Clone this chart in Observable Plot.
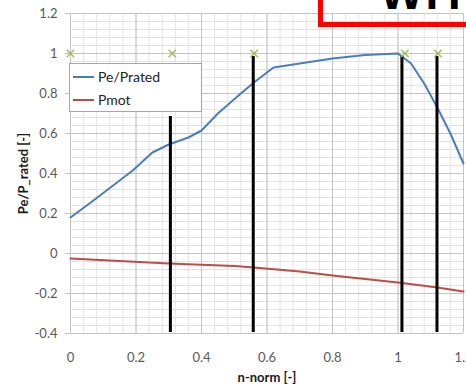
<!DOCTYPE html>
<html><head><meta charset="utf-8">
<script src="https://cdn.jsdelivr.net/npm/d3@7"></script>
<script src="https://cdn.jsdelivr.net/npm/@observablehq/plot@0.6"></script>
<style>
body{margin:0;background:#fff;overflow:hidden;width:466px;height:387px;position:relative;font-family:Lato,"Open Sans",sans-serif}
#chart{position:absolute;left:0;top:0}
g[aria-label="y-axis label"] text, g[aria-label="x-axis label"] text{font-weight:bold;fill:#1a1a1a;font-size:13px}
#legend{position:absolute;left:69px;top:63px;width:133px;height:49px;border:1px solid #a6a6a6;background:#fff;box-sizing:border-box;font-size:14px;color:#222}
.li{position:absolute;display:flex;align-items:center}
.sw{display:inline-block;height:2px;margin-right:4px}
#redbox{position:absolute;left:318px;top:-30px;width:200px;height:57px;border:5px solid #ff0000;box-sizing:border-box}
#wt{position:absolute;left:380px;top:-34px;font:bold 46px "Liberation Sans",Arial,sans-serif;color:#000;letter-spacing:2px}
</style></head>
<body>
<div id="chart"></div>
<div id="redbox"></div>
<div id="wt">WITH</div>
<div id="legend"></div>
<script>
// Data
const blueX = [0, 0.07, 0.19, 0.25, 0.30, 0.36, 0.40, 0.45, 0.52, 0.56, 0.62, 0.70, 0.80, 0.90, 1.00, 1.04, 1.08, 1.12, 1.16, 1.20];
const blueY = [0.18, 0.265, 0.415, 0.505, 0.545, 0.58, 0.615, 0.70, 0.80, 0.855, 0.93, 0.95, 0.975, 0.993, 1.0, 0.95, 0.85, 0.73, 0.60, 0.45];
const redX = [0, 0.30, 0.50, 0.56, 0.70, 0.80, 1.00, 1.12, 1.20];
const redY = [-0.025, -0.05, -0.063, -0.07, -0.09, -0.11, -0.145, -0.17, -0.19];
const vLineX = [0.305, 0.558, 1.012, 1.119];
const vLineTop = [0.685, 0.985, 0.985, 0.985];
const vLineBottom = [-0.395, -0.395, -0.395, -0.395];
const markX = [0, 0.311, 0.561, 1.021, 1.122];
const markY = [1, 1, 1, 1, 1];
const xTicks = [0, 0.2, 0.4, 0.6, 0.8, 1, 1.2];
const yTicks = [-0.4, -0.2, 0, 0.2, 0.4, 0.6, 0.8, 1, 1.2];
const seriesNames = ["Pe/Prated", "Pmot"];
const seriesColors = ["#4a7ebb", "#be4b48"];

const blue = blueX.map((x, i) => ({x, y: blueY[i]}));
const red = redX.map((x, i) => ({x, y: redY[i]}));
const vlines = vLineX.map((x, i) => ({x, top: vLineTop[i], bottom: vLineBottom[i]}));
const marks = markX.map((x, i) => ({x, y: markY[i]}));
const xMinor = d3.range(0, 31).map(i => +(i * 0.04).toFixed(2));
const yMinor = d3.range(0, 41).map(i => +(-0.4 + i * 0.04).toFixed(2));
const fmt = d => d === 0 ? "0" : String(+d.toFixed(1));

const chart = Plot.plot({
  width: 466, height: 387,
  marginLeft: 70, marginRight: 3, marginTop: 13, marginBottom: 54,
  style: {fontSize: "13px", fontFamily: "Lato, 'Open Sans', sans-serif", background: "white", color: "#595959", overflow: "hidden"},
  x: {domain: [0, 1.2]},
  y: {domain: [-0.4, 1.2]},
  marks: [
    Plot.ruleX(xMinor, {stroke: "#e3e3e3", strokeWidth: 1}),
    Plot.ruleY(yMinor, {stroke: "#e3e3e3", strokeWidth: 1}),
    Plot.ruleX(xTicks, {stroke: "#c4c4c4", strokeWidth: 1}),
    Plot.ruleY(yTicks, {stroke: "#c4c4c4", strokeWidth: 1}),
    Plot.axisX({ticks: xTicks, tickFormat: fmt, tickSize: 0, tickPadding: 19, fill: "#595959", label: "n-norm [-]", labelArrow: "none", labelAnchor: "center", labelOffset: 48}),
    Plot.axisY({ticks: yTicks, tickFormat: fmt, tickSize: 5, tickPadding: 8, stroke: "#c4c4c4", fill: "#595959", label: "Pe/P_rated [-]", labelArrow: "none", labelAnchor: "center", labelOffset: 52}),
    Plot.line(blue, {x: "x", y: "y", stroke: seriesColors[0], strokeWidth: 2}),
    Plot.line(red, {x: "x", y: "y", stroke: seriesColors[1], strokeWidth: 2}),
    Plot.ruleX(vlines, {x: "x", y1: "bottom", y2: "top", stroke: "#000", strokeWidth: 3}),
    Plot.dot(marks, {x: "x", y: "y", symbol: "times", r: 3.5, stroke: "#9bbb59", strokeWidth: 1.3})
  ]
});
document.getElementById("chart").appendChild(chart);

const lg = document.getElementById("legend");
const pos = [{l: 3, t: 4, w: 21}, {l: 3, t: 27, w: 21}];
seriesNames.forEach((n, i) => {
  const d = document.createElement("div");
  d.className = "li";
  d.style.left = pos[i].l + "px";
  d.style.top = pos[i].t + "px";
  d.innerHTML = `<span class="sw" style="width:${pos[i].w}px;background:${seriesColors[i]}"></span><span>${n}</span>`;
  lg.appendChild(d);
});
</script>
</body></html>
